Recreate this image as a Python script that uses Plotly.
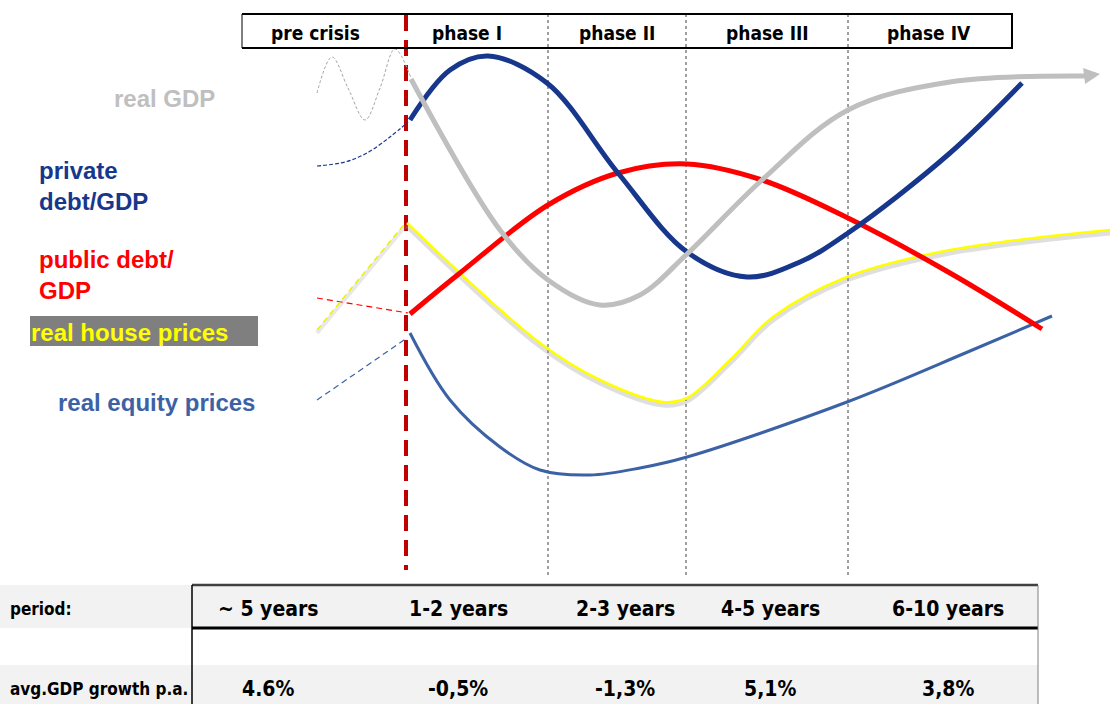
import plotly.graph_objects as go

# ---------------- data (schematic positions) ----------------
phases = ["pre crisis", "phase I", "phase II", "phase III", "phase IV"]
phase_centers = [315, 467, 617, 767, 929]
phase_bounds = [548, 686, 848]          # dotted separators
crisis_x = 406                           # red dashed crisis line

periods = ["~ 5 years", "1-2 years", "2-3 years", "4-5 years", "6-10 years"]
gdp_growth = ["4.6%", "-0,5%", "-1,3%", "5,1%", "3,8%"]
table_cols = [268, 458, 625, 770, 948]

gdp_pre_x = [317, 332, 348, 365, 380, 395, 411]
gdp_pre_y = [93, 57, 88, 120, 88, 49, 78]
gdp_x = [411, 500, 548, 600, 640, 686, 762, 848, 950, 1085]
gdp_y = [79, 230, 280, 305, 295, 255, 180, 110, 82, 76]

priv_pre_x = [317, 345, 367, 390, 408]
priv_pre_y = [166, 162, 153, 137, 122]
priv_x = [410, 450, 488, 547, 618, 687, 747, 800, 848, 950, 1022]
priv_y = [120, 70, 56, 83, 173, 252, 277, 262, 233, 153, 83]

pub_pre_x = [317, 408]
pub_pre_y = [298, 313]
pub_x = [410, 460, 548, 618, 687, 762, 848, 950, 1042]
pub_y = [314, 273, 205, 173, 164, 180, 218, 273, 329]

house_pre_x = [317, 402, 407]
house_pre_y = [330, 227, 223]
house_x = [407, 540, 600, 663, 687, 730, 773, 847, 950, 1110]
house_y = [223, 343, 380, 402, 398, 360, 317, 277, 250, 230]

eq_pre_x = [317, 407]
eq_pre_y = [400, 338]
eq_x = [410, 450, 500, 540, 590, 640, 687, 847, 970, 1052]
eq_y = [333, 400, 447, 470, 475, 468, 457, 402, 351, 316]

# ---------------- styles ----------------
GREY = "#BFBFBF"
NAVY = "#17378C"
RED = "#FF0000"
YEL = "#FFFF00"
EQ = "#3C62A6"
NARROW = "DejaVu Sans Condensed, Liberation Sans Narrow, sans-serif"
ARIAL = "Liberation Sans, Arial, sans-serif"

fig = go.Figure()


def line(x, y, color, width, dash="solid", shape="spline", smoothing=1.0):
    fig.add_trace(go.Scatter(x=x, y=y, mode="lines", hoverinfo="skip", showlegend=False,
                             line=dict(color=color, width=width, dash=dash, shape=shape,
                                       smoothing=smoothing if shape == "spline" else None)))


# pre-crisis thin dashed lines
line(gdp_pre_x, gdp_pre_y, "#A6A6A6", 1, "3px,2px")
line(priv_pre_x, priv_pre_y, NAVY, 1.2, "4px,2px")
line(pub_pre_x, pub_pre_y, RED, 1.2, "6px,4px", "linear")
line(house_pre_x, [v + 3 for v in house_pre_y], "rgba(150,150,150,0.22)", 4, "solid", "linear")
line(house_pre_x, house_pre_y, "#F0F000", 1.5, "6px,4px", "linear")
line(eq_pre_x, eq_pre_y, EQ, 1.2, "6px,4px", "linear")

# main curves
line(eq_x, eq_y, EQ, 3)
line(house_x, [v + 3 for v in house_y], "rgba(140,140,140,0.28)", 5)
line(house_x, house_y, YEL, 2.5)
line(pub_x, pub_y, RED, 5)
line(priv_x, priv_y, NAVY, 5)
line(gdp_x, gdp_y, GREY, 5)

shapes = []
# crisis line
shapes.append(dict(type="line", x0=crisis_x, x1=crisis_x, y0=15, y1=570, layer="below",
                   line=dict(color="#C00000", width=4, dash="16px,9px")))
# dotted phase separators
for b in phase_bounds:
    shapes.append(dict(type="line", x0=b, x1=b, y0=14, y1=578, layer="below",
                       line=dict(color="#404040", width=1, dash="dot")))
# header box
shapes += [
    dict(type="line", x0=242, x1=1013, y0=14, y1=14, line=dict(color="black", width=2)),
    dict(type="line", x0=242, x1=1013, y0=48, y1=48, line=dict(color="black", width=2)),
    dict(type="line", x0=242, x1=242, y0=14, y1=48, line=dict(color="black", width=1)),
    dict(type="line", x0=1012, x1=1012, y0=14, y1=48, line=dict(color="black", width=2)),
]
# table
shapes += [
    dict(type="rect", x0=0, x1=1038, y0=585, y1=628, fillcolor="#F2F2F2", line=dict(width=0), layer="below"),
    dict(type="rect", x0=0, x1=1038, y0=665, y1=704, fillcolor="#F2F2F2", line=dict(width=0), layer="below"),
    dict(type="line", x0=192, x1=1038, y0=585, y1=585, line=dict(color="#404040", width=2.5)),
    dict(type="line", x0=192, x1=1038, y0=628, y1=628, line=dict(color="black", width=3)),
    dict(type="line", x0=192, x1=192, y0=585, y1=704, line=dict(color="black", width=1.5)),
    dict(type="line", x0=1038, x1=1038, y0=585, y1=704, line=dict(color="#808080", width=1)),
]
# label box for house prices
shapes.append(dict(type="rect", x0=30, x1=258, y0=316, y1=346, fillcolor="#7F7F7F",
                   line=dict(width=0), layer="below"))

ann = []
for t, cx in zip(phases, phase_centers):
    ann.append(dict(x=cx, y=33, text="<b>%s</b>" % t, showarrow=False, xanchor="center", yanchor="middle",
                    font=dict(family=NARROW, size=19, color="black")))
for t, cx in zip(periods, table_cols):
    ann.append(dict(x=cx, y=609, text="<b>%s</b>" % t, showarrow=False, xanchor="center", yanchor="middle",
                    font=dict(family=NARROW, size=21, color="black")))
for t, cx in zip(gdp_growth, table_cols):
    ann.append(dict(x=cx, y=689, text="<b>%s</b>" % t, showarrow=False, xanchor="center", yanchor="middle",
                    font=dict(family=NARROW, size=21, color="black")))
ann.append(dict(x=8, y=609, text="<b>period:</b>", showarrow=False, xanchor="left", yanchor="middle",
                font=dict(family=NARROW, size=17, color="black")))
ann.append(dict(x=8, y=689, text="<b>avg.GDP growth p.a.</b>", showarrow=False, xanchor="left", yanchor="middle",
                font=dict(family=NARROW, size=17, color="black")))

# series labels
ann.append(dict(x=112, y=98, text="<b>real GDP</b>", showarrow=False, xanchor="left", yanchor="middle",
                font=dict(family=ARIAL, size=24, color=GREY)))
ann.append(dict(x=37, y=186, text="<b>private<br>debt/GDP</b>", showarrow=False, xanchor="left", yanchor="middle",
                align="left", font=dict(family=ARIAL, size=24, color=NAVY)))
ann.append(dict(x=37, y=275, text="<b>public debt/<br>GDP</b>", showarrow=False, xanchor="left", yanchor="middle",
                align="left", font=dict(family=ARIAL, size=24, color=RED)))
ann.append(dict(x=29, y=332, text="<b>real house prices</b>", showarrow=False, xanchor="left", yanchor="middle",
                font=dict(family=ARIAL, size=24, color=YEL)))
ann.append(dict(x=56, y=402, text="<b>real equity prices</b>", showarrow=False, xanchor="left", yanchor="middle",
                font=dict(family=ARIAL, size=24, color=EQ)))

# arrow head at the end of real GDP
ann.append(dict(x=1100, y=74, ax=1084, ay=76, axref="x", ayref="y", xref="x", yref="y", text="",
                showarrow=True, arrowhead=2, arrowsize=0.8, arrowwidth=4, arrowcolor=GREY))

fig.update_layout(
    width=1110, height=704, margin=dict(l=0, r=0, t=0, b=0),
    paper_bgcolor="white", plot_bgcolor="white",
    xaxis=dict(range=[0, 1110], visible=False, fixedrange=True),
    yaxis=dict(range=[704, 0], visible=False, fixedrange=True),
    shapes=shapes, annotations=ann, showlegend=False,
)
fig.write_html("out.html", config={"displayModeBar": False},
               post_script="document.body.style.margin='0';")
